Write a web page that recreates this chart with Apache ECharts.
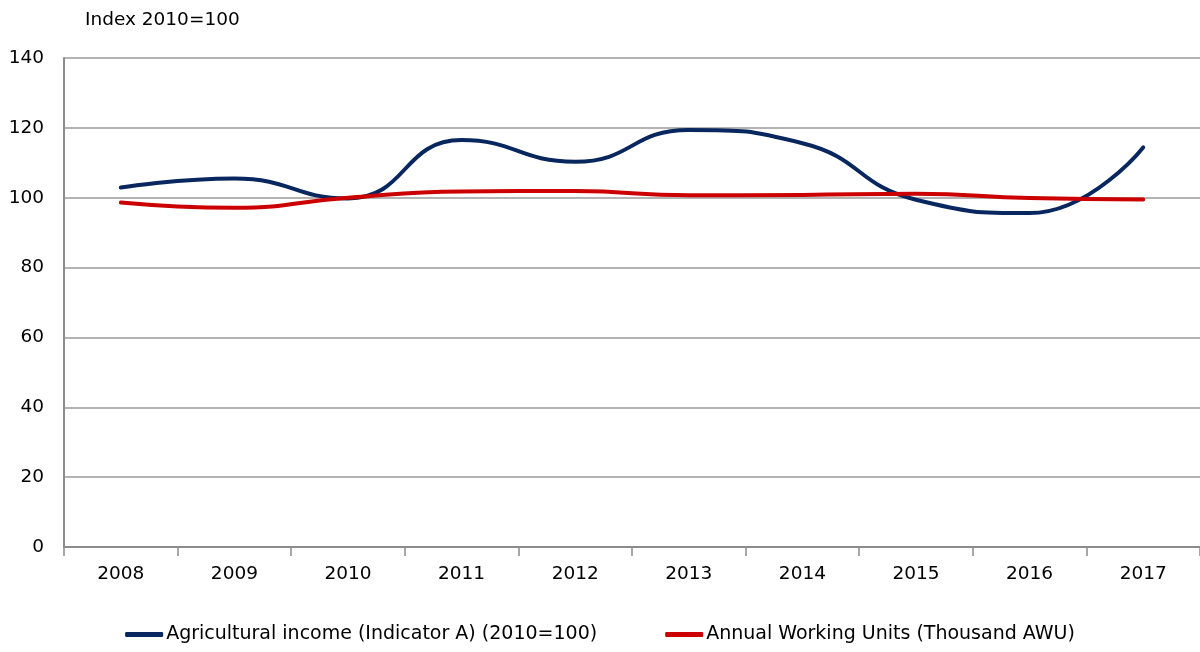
<!DOCTYPE html>
<html>
<head>
<meta charset="utf-8">
<script src="https://cdn.jsdelivr.net/npm/echarts@6/dist/echarts.min.js"></script>
<style>
  html, body { margin: 0; padding: 0; background: #fff; }
  #main { width: 1200px; height: 652px; }
</style>
</head>
<body>
<div id="main"></div>
<script>
// data
var years = ['2008', '2009', '2010', '2011', '2012', '2013', '2014', '2015', '2016', '2017']
var incomeIndex = [102.9, 105.5, 99.8, 116.5, 110.3, 119.4, 115.6, 99.4, 95.6, 114.4]
var awuIndex = [98.6, 97.1, 100.0, 101.8, 101.9, 100.7, 100.8, 101.1, 99.9, 99.5]
var yTicks = [0, 20, 40, 60, 80, 100, 120, 140]

var fontName = 'DejaVu Sans, Verdana, sans-serif'

var myChart = echarts.init(document.getElementById('main'))
myChart.setOption({
  animation: false,
  textStyle: { fontFamily: fontName },
  title: {
    text: 'Index 2010=100',
    left: 80,
    top: 6,
    textStyle: { fontFamily: fontName, fontSize: 18.5, fontWeight: 'normal', color: '#000' }
  },
  legend: {
    bottom: 3,
    left: 'center',
    itemGap: 68,
    itemWidth: 38,
    itemHeight: 5,
    icon: 'roundRect',
    textStyle: { fontFamily: fontName, fontSize: 19, color: '#000', padding: [0, 0, 0, -2] },
    data: ['Agricultural income (Indicator A) (2010=100)', 'Annual Working Units (Thousand AWU)']
  },
  grid: { left: 64, right: 0, top: 58, bottom: 105, containLabel: false },
  xAxis: {
    type: 'category',
    data: years,
    boundaryGap: true,
    axisLine: { lineStyle: { color: '#8c8c8c', width: 2 } },
    axisTick: { show: true, length: 9, lineStyle: { color: '#8c8c8c', width: 1.5 } },
    axisLabel: { color: '#000', fontSize: 18.5, margin: 18, fontFamily: fontName }
  },
  yAxis: {
    type: 'value',
    min: yTicks[0],
    max: yTicks[yTicks.length - 1],
    interval: 20,
    axisLine: { show: true, lineStyle: { color: '#8c8c8c', width: 2 } },
    axisTick: { show: false },
    axisLabel: { color: '#000', fontSize: 18.5, margin: 20, fontFamily: fontName },
    splitLine: { lineStyle: { color: '#9a9a9a', width: 1.5 } }
  },
  series: [
    {
      name: 'Agricultural income (Indicator A) (2010=100)',
      type: 'line',
      data: incomeIndex,
      smooth: 0.5,
      symbol: 'none',
      lineStyle: { color: '#08275f', width: 4, cap: 'round' },
      itemStyle: { color: '#08275f' }
    },
    {
      name: 'Annual Working Units (Thousand AWU)',
      type: 'line',
      data: awuIndex,
      smooth: 0.5,
      symbol: 'none',
      lineStyle: { color: '#cc0000', width: 4, cap: 'round' },
      itemStyle: { color: '#cc0000' }
    }
  ]
})
</script>
</body>
</html>
